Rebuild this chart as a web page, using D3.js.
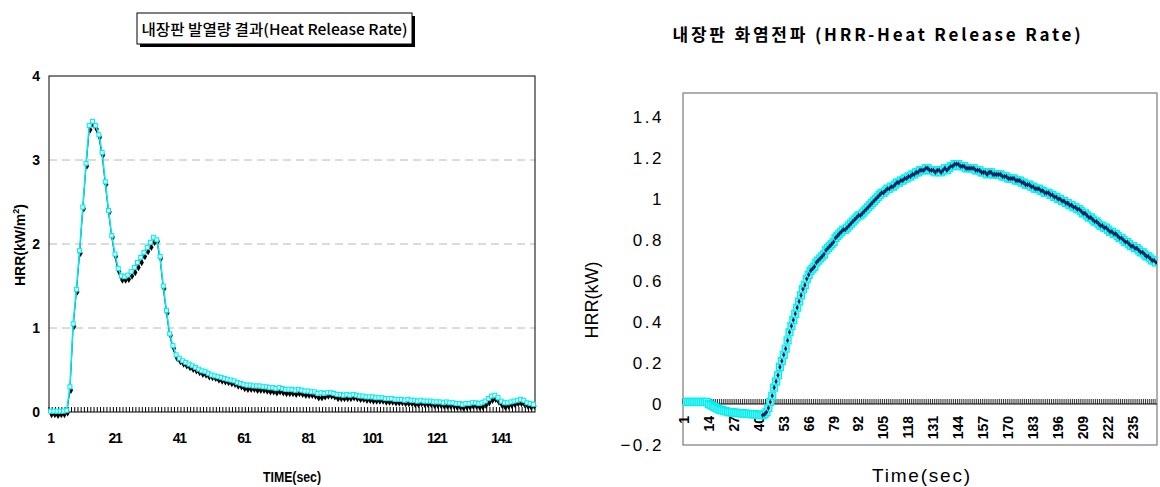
<!DOCTYPE html>
<html>
<head>
<meta charset="utf-8">
<script src="https://cdn.jsdelivr.net/npm/d3@7"></script>
<style>
  body { margin: 0; background: #fff; }
  text { fill: #000; }
</style>
</head>
<body>
<svg id="chart" width="1160" height="487"></svg>
<script>
// ---- left chart data (HRR kW/m2, one value per second) ----
const leftCyan = [
  0.01,0.01,0.01,0.01,0.01,0.02,0.30,1.05,1.46,1.92,
  2.44,2.96,3.41,3.46,3.41,3.30,3.09,2.74,2.40,2.10,
  1.88,1.71,1.62,1.61,1.63,1.67,1.72,1.78,1.84,1.90,
  1.96,2.02,2.08,2.05,1.85,1.50,1.21,0.93,0.79,0.68,
  0.64,0.61,0.59,0.57,0.55,0.53,0.51,0.49,0.48,0.46,
  0.44,0.43,0.42,0.41,0.40,0.39,0.38,0.37,0.35,0.34,
  0.33,0.32,0.32,0.31,0.31,0.31,0.30,0.30,0.29,0.29,
  0.28,0.29,0.28,0.27,0.27,0.27,0.26,0.27,0.26,0.25,
  0.25,0.24,0.24,0.22,0.23,0.22,0.23,0.23,0.22,0.21,
  0.21,0.20,0.21,0.20,0.21,0.20,0.19,0.19,0.18,0.18,
  0.18,0.17,0.17,0.17,0.16,0.16,0.16,0.15,0.15,0.15,
  0.14,0.15,0.14,0.14,0.13,0.14,0.13,0.13,0.13,0.12,
  0.12,0.12,0.11,0.12,0.11,0.11,0.10,0.10,0.09,0.10,
  0.10,0.11,0.11,0.10,0.11,0.13,0.16,0.19,0.20,0.17,
  0.13,0.11,0.11,0.12,0.13,0.14,0.15,0.14,0.11,0.10,0.09
];
const leftBlack = [
  -0.03,-0.03,-0.04,-0.03,-0.03,-0.01,0.26,1.02,1.43,1.89,
  2.42,2.93,3.36,3.42,3.37,3.27,3.06,2.71,2.38,2.08,
  1.85,1.67,1.57,1.57,1.58,1.62,1.66,1.72,1.78,1.85,
  1.91,1.96,2.02,2.03,1.83,1.47,1.18,0.91,0.76,0.64,
  0.60,0.57,0.55,0.53,0.51,0.49,0.47,0.45,0.44,0.42,
  0.41,0.40,0.38,0.37,0.36,0.35,0.34,0.33,0.31,0.30,
  0.28,0.27,0.27,0.27,0.26,0.26,0.26,0.25,0.24,0.24,
  0.23,0.24,0.23,0.22,0.22,0.22,0.21,0.22,0.21,0.20,
  0.20,0.20,0.19,0.17,0.17,0.18,0.19,0.19,0.18,0.16,
  0.16,0.16,0.16,0.16,0.17,0.16,0.15,0.15,0.14,0.14,
  0.13,0.13,0.13,0.13,0.12,0.12,0.12,0.11,0.11,0.11,
  0.10,0.10,0.10,0.09,0.09,0.10,0.09,0.09,0.09,0.08,
  0.08,0.08,0.07,0.07,0.07,0.07,0.06,0.06,0.05,0.06,
  0.06,0.07,0.07,0.06,0.06,0.08,0.11,0.14,0.15,0.12,
  0.08,0.06,0.07,0.08,0.09,0.10,0.10,0.09,0.07,0.06,0.07
];
const leftXTicks = [1, 21, 41, 61, 81, 101, 121, 141];
const leftYTicks = [0, 1, 2, 3, 4];
const leftGrid = [1, 2, 3];

// ---- right chart data (HRR kW) ----
const rightHrr = [
  0.01,0.01,0.01,0.01,0.01,0.01,0.01,0.01,0.01,0.01,
  0.01,0.01,0.01,0.00,-0.005,-0.01,-0.015,-0.02,-0.025,-0.03,
  -0.03,-0.035,-0.035,-0.04,-0.04,-0.04,-0.042,-0.042,-0.044,-0.045,
  -0.045,-0.046,-0.047,-0.048,-0.048,-0.05,-0.05,-0.05,-0.052,-0.053,
  -0.054,-0.055,-0.05,-0.04,-0.02,0.01,0.04,0.08,0.11,0.14,
  0.18,0.21,0.24,0.27,0.31,0.35,0.38,0.41,0.44,0.47,
  0.50,0.53,0.56,0.58,0.61,0.63,0.65,0.66,0.67,0.69,
  0.70,0.71,0.72,0.73,0.75,0.76,0.77,0.78,0.79,0.81,
  0.82,0.83,0.84,0.85,0.85,0.86,0.87,0.88,0.89,0.90,
  0.91,0.92,0.92,0.93,0.94,0.95,0.96,0.97,0.98,0.99,
  1.00,1.01,1.02,1.03,1.03,1.04,1.05,1.05,1.06,1.06,
  1.07,1.08,1.08,1.09,1.09,1.10,1.10,1.11,1.11,1.12,
  1.12,1.13,1.13,1.14,1.14,1.14,1.15,1.15,1.14,1.14,
  1.14,1.13,1.14,1.14,1.13,1.14,1.15,1.14,1.15,1.16,
  1.16,1.17,1.17,1.17,1.16,1.16,1.16,1.15,1.15,1.15,
  1.15,1.15,1.14,1.14,1.14,1.13,1.13,1.13,1.12,1.13,
  1.13,1.12,1.12,1.12,1.12,1.12,1.11,1.11,1.11,1.10,
  1.10,1.10,1.10,1.09,1.09,1.09,1.08,1.08,1.07,1.07,
  1.07,1.06,1.06,1.05,1.05,1.05,1.04,1.04,1.03,1.03,
  1.03,1.02,1.02,1.01,1.01,1.00,1.00,0.99,0.99,0.98,
  0.98,0.97,0.97,0.96,0.96,0.95,0.95,0.94,0.93,0.93,
  0.92,0.91,0.91,0.90,0.89,0.89,0.88,0.87,0.87,0.86,
  0.86,0.85,0.84,0.84,0.83,0.83,0.82,0.81,0.81,0.80,
  0.79,0.79,0.78,0.77,0.77,0.76,0.76,0.75,0.74,0.74,
  0.73,0.72,0.72,0.71,0.70,0.70,0.69
];
const rightNavyFrom = 42; // dark markers show from this second on
const rightXTicks = [1,14,27,40,53,66,79,92,105,118,131,144,157,170,183,196,209,222,235];
const rightYTicks = [-0.2, 0, 0.2, 0.4, 0.6, 0.8, 1, 1.2, 1.4];

const svg = d3.select("#chart");

// ================= left chart =================
const leftSecs = d3.range(1, leftCyan.length + 1);
const xL = d3.scaleBand().domain(leftSecs).range([49, 535]);
const yL = d3.scaleLinear().domain([0, 4]).range([412, 76]);
const cxL = s => xL(s) + xL.bandwidth() / 2;

// title box with shadow
svg.append("rect").attr("x", 140).attr("y", 16).attr("width", 275).attr("height", 31).attr("fill", "#000");
svg.append("rect").attr("x", 137).attr("y", 13).attr("width", 275).attr("height", 31)
  .attr("fill", "#fff").attr("stroke", "#000");
svg.append("text").attr("x", 274.5).attr("y", 34.5).attr("text-anchor", "middle")
  .attr("font-family", "'Noto Sans CJK KR', sans-serif").attr("font-size", 15).attr("font-weight", 500)
  .attr("textLength", 266).attr("lengthAdjust", "spacingAndGlyphs")
  .text("내장판 발열량 결과(Heat Release Rate)");

// grid lines
svg.selectAll(".gridL").data(leftGrid).join("line")
  .attr("x1", 49).attr("x2", 535)
  .attr("y1", d => yL(d)).attr("y2", d => yL(d))
  .attr("stroke", "#b8b8b8").attr("stroke-dasharray", "8,5");

// frame
svg.append("rect").attr("x", 49).attr("y", 76).attr("width", 486).attr("height", 336)
  .attr("fill", "none").attr("stroke", "#000");

// category tick marks (dense hatch on the axis)
svg.selectAll(".tickL").data(leftSecs).join("line")
  .attr("x1", d => xL(d)).attr("x2", d => xL(d))
  .attr("y1", yL(0)).attr("y2", yL(0) - 5)
  .attr("stroke", "#000").attr("stroke-width", 1);

// y labels
svg.selectAll(".ylabL").data(leftYTicks).join("text")
  .attr("x", 40).attr("y", d => yL(d)).attr("dy", "0.35em").attr("text-anchor", "end")
  .attr("font-family", "'Liberation Sans', Arial, sans-serif").attr("font-size", 14).attr("font-weight", "bold")
  .text(d => d);

// x labels
svg.selectAll(".xlabL").data(leftXTicks).join("text")
  .attr("x", d => cxL(d)).attr("y", 443).attr("text-anchor", "middle")
  .attr("font-family", "'Liberation Sans', Arial, sans-serif").attr("font-size", 14).attr("font-weight", "bold")
  .attr("letter-spacing", -1.2)
  .text(d => d);

// axis titles
svg.append("text").attr("x", 292).attr("y", 482).attr("text-anchor", "middle")
  .attr("font-family", "'Liberation Sans', Arial, sans-serif").attr("font-size", 14).attr("font-weight", "bold")
  .attr("textLength", 58).attr("lengthAdjust", "spacingAndGlyphs")
  .text("TIME(sec)");
const ytL = svg.append("text").attr("transform", "translate(25,245) rotate(-90)").attr("text-anchor", "middle")
  .attr("font-family", "'Liberation Sans', Arial, sans-serif").attr("font-size", 14).attr("font-weight", "bold");
ytL.append("tspan").text("HRR(kW/m");
ytL.append("tspan").attr("font-size", 9).attr("dy", -6).text("2");
ytL.append("tspan").attr("dy", 6).text(")");

// black series
const lineL = d3.line().x((d, i) => cxL(i + 1)).y(d => yL(d));
svg.append("path").datum(leftBlack).attr("d", lineL)
  .attr("fill", "none").attr("stroke", "#000").attr("stroke-width", 1);
svg.selectAll(".mkB").data(leftBlack).join("path")
  .attr("transform", (d, i) => `translate(${cxL(i + 1) + 1},${yL(d)})`)
  .attr("d", d3.symbol(d3.symbolDiamond, 16))
  .attr("fill", "#000");

// cyan series
svg.append("path").datum(leftCyan).attr("d", lineL)
  .attr("fill", "none").attr("stroke", "#00e8f0").attr("stroke-width", 1.6);
svg.selectAll(".mkC").data(leftCyan).join("rect")
  .attr("x", (d, i) => cxL(i + 1) - 2).attr("y", d => yL(d) - 2)
  .attr("width", 4).attr("height", 4)
  .attr("fill", "#d8ffff").attr("stroke", "#00e8f0").attr("stroke-width", 1);

// ================= right chart =================
const rightSecs = d3.range(1, rightHrr.length + 1);
const xR = d3.scaleBand().domain(rightSecs).range([683, 1157]);
const yR = d3.scaleLinear().domain([-0.2, 1.517]).range([445, 93]);
const cxR = s => xR(s) + xR.bandwidth() / 2;

svg.append("text").attr("x", 878).attr("y", 41).attr("text-anchor", "middle")
  .attr("font-family", "'Noto Sans CJK KR', 'DejaVu Sans', sans-serif").attr("font-size", 17).attr("font-weight", "bold")
  .attr("letter-spacing", 2.8)
  .text("내장판 화염전파 (HRR-Heat Release Rate)");

svg.append("defs").append("clipPath").attr("id", "clipR")
  .append("rect").attr("x", 683).attr("y", 93).attr("width", 474).attr("height", 352);

// frame
svg.append("rect").attr("x", 683).attr("y", 93).attr("width", 474).attr("height", 352)
  .attr("fill", "none").attr("stroke", "#7a7a7a").attr("stroke-width", 1.2);

// zero axis line with dense ticks
svg.append("line").attr("x1", 683).attr("x2", 1157).attr("y1", yR(0)).attr("y2", yR(0))
  .attr("stroke", "#000").attr("stroke-width", 1);
svg.selectAll(".tickR").data(rightSecs).join("line")
  .attr("x1", d => xR(d)).attr("x2", d => xR(d))
  .attr("y1", yR(0)).attr("y2", yR(0) - 5)
  .attr("stroke", "#000").attr("stroke-width", 0.8);

// y labels
svg.selectAll(".ylabR").data(rightYTicks).join("text")
  .attr("x", 664).attr("y", d => yR(d)).attr("dy", "0.35em").attr("text-anchor", "end")
  .attr("font-family", "'Liberation Sans', Arial, sans-serif").attr("font-size", 17)
  .attr("letter-spacing", 2.5)
  .text(d => (d < 0 ? "\u2212" + Math.abs(d) : String(d)));

// x labels, rotated
svg.selectAll(".xlabR").data(rightXTicks).join("text")
  .attr("transform", d => `translate(${cxR(d)},${yR(0) + 12}) rotate(-90)`)
  .attr("dy", "0.35em").attr("text-anchor", "end")
  .attr("font-family", "'Liberation Sans', Arial, sans-serif").attr("font-size", 14).attr("font-weight", "bold")
  .text(d => d);

// axis titles
svg.append("text").attr("x", 921).attr("y", 482).attr("text-anchor", "middle")
  .attr("font-family", "'Liberation Sans', Arial, sans-serif").attr("font-size", 19)
  .attr("textLength", 98).attr("lengthAdjust", "spacing")
  .text("Time(sec)");
svg.append("text").attr("transform", "translate(598,300) rotate(-90)").attr("text-anchor", "middle")
  .attr("font-family", "'Liberation Sans', Arial, sans-serif").attr("font-size", 18)
  .text("HRR(kW)");

// series
const gR = svg.append("g").attr("clip-path", "url(#clipR)");
gR.selectAll(".mkR").data(rightHrr).join("rect")
  .attr("x", (d, i) => cxR(i + 1) - 3.5).attr("y", d => yR(d) - 3.5)
  .attr("width", 7).attr("height", 7)
  .attr("fill", "#7ef0f0").attr("stroke", "#00f0f0").attr("stroke-width", 1.2);
gR.selectAll(".mkN").data(rightHrr.map((v, i) => ({ s: i + 1, v })).filter(d => d.s >= rightNavyFrom))
  .join("path")
  .attr("transform", d => `translate(${cxR(d.s)},${yR(d.v)})`)
  .attr("d", d3.symbol(d3.symbolDiamond, 9))
  .attr("fill", "#0b1f5c");
</script>
</body>
</html>
